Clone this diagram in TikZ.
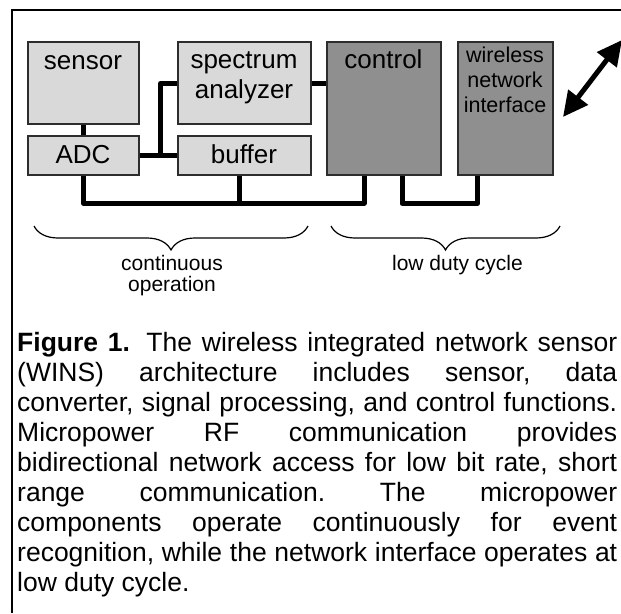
\documentclass[tikz,border=0pt]{standalone}
\usepackage{fontspec}
\setmainfont{Liberation Sans}
\usetikzlibrary{arrows.meta,decorations.pathreplacing,calc}
\definecolor{lightfill}{RGB}{217,217,217}
\definecolor{darkfill}{RGB}{143,143,143}
\definecolor{edgecol}{RGB}{45,45,45}
\begin{document}
\begin{tikzpicture}[x=1pt,y=-1pt,
  box/.style={draw=edgecol, line width=1.3pt, inner sep=0pt, anchor=north west},
  lbox/.style={box, fill=lightfill},
  dbox/.style={box, fill=darkfill},
  big/.style={font=\fontsize{26}{30}\selectfont, inner sep=0pt, anchor=base},
  small/.style={font=\fontsize{21.5}{25}\selectfont, inner sep=0pt, anchor=base},
  lab/.style={font=\fontsize{21}{24}\selectfont, inner sep=0pt, anchor=base},
  wire/.style={line width=5pt, line join=round},
  bracestyle/.style={line width=1.2pt, decorate, decoration={brace, amplitude=24pt, mirror}},
  dblarrow/.style={line width=5pt, {Triangle[length=25pt,width=24pt]}-{Triangle[length=25pt,width=24pt]}}
  ]
\useasboundingbox (0,0) rectangle (621,613);
% frame
\draw[line width=2.3pt] (12,613) -- (12,10) -- (621,10);

% boxes
\node[lbox, minimum width=110pt, minimum height=81pt] (sensor) at (28,42) {};
\node[lbox, minimum width=110pt, minimum height=38pt] (ADC) at (28,136) {};
\node[lbox, minimum width=132pt, minimum height=81pt] (spec) at (178,42) {};
\node[lbox, minimum width=132pt, minimum height=38pt] (buffer) at (178,136) {};
\node[dbox, minimum width=113pt, minimum height=132pt] (control) at (327,42) {};
\node[dbox, minimum width=94pt, minimum height=132pt] (wireless) at (458,42) {};

% connection points
\coordinate (j) at ($(ADC.east)!0.55!(buffer.west)$);
\coordinate (b1) at ($(buffer.south)+(-5,0)$);
\coordinate (c1) at ($(control.south west)+(37,0)$);
\coordinate (c2) at ($(control.south west)+(75,0)$);
\coordinate (w1) at ($(wireless.south)+(-28,0)$);

% wires
\draw[wire] (sensor.south) -- (ADC.north);
\draw[wire] (ADC.east) -- (buffer.west);
\draw[wire] (j) |- (spec.west);
\draw[wire] (spec.east) -- (spec.east -| control.west);
\draw[wire] (ADC.south) -- ++(0,28) -| (c1);
\draw[wire] (b1) -- ++(0,28);
\draw[wire] (c2) -- ++(0,28) -| (w1);

% redraw box borders on top
\draw[draw=edgecol, line width=1.3pt] (sensor.north west) rectangle (sensor.south east);
\draw[draw=edgecol, line width=1.3pt] (ADC.north west) rectangle (ADC.south east);
\draw[draw=edgecol, line width=1.3pt] (spec.north west) rectangle (spec.south east);
\draw[draw=edgecol, line width=1.3pt] (buffer.north west) rectangle (buffer.south east);
\draw[draw=edgecol, line width=1.3pt] (control.north west) rectangle (control.south east);
\draw[draw=edgecol, line width=1.3pt] (wireless.north west) rectangle (wireless.south east);

% box labels
\node[big] (sensorT) at (83,69) {sensor};
\node[big] (specT1) at (244,68) {spectrum};
\node[big] (specT2) at (244,98) {analyzer};
\node[big] (ctrlT) at (383.5,68) {control};
\node[small] (wT1) at (505,62) {wireless};
\node[small] (wT2) at (505,87) {network};
\node[small] (wT3) at (505,112) {interface};
\node[big] (adcT) at (83,163) {ADC};
\node[big] (bufT) at (244,163) {buffer};

% radio arrow
\coordinate (a1) at (563,117);
\coordinate (a2) at (622,40);
\draw[dblarrow] (a1) -- (a2);

% braces
\coordinate (l1) at (34,226);
\coordinate (l2) at (308,226);
\coordinate (r1) at (331,226);
\coordinate (r2) at (560,226);
\draw[bracestyle] (l1) -- (l2);
\draw[bracestyle] (r1) -- (r2);
\node[lab] (contT1) at (172,270) {continuous};
\node[lab] (contT2) at (172,291) {operation};
\node[lab] (lowT) at (457.5,270) {low duty cycle};

% caption
\node[anchor=base west, inner sep=0pt, font=\fontsize{26.5}{30}\selectfont] (cap) at (17,351.7) {\parbox[t]{600pt}{\hbadness=10000\frenchspacing
\textbf{Figure 1.}\hspace{0.25em} The wireless integrated network sensor\linebreak
(WINS) architecture includes sensor, data\linebreak
converter, signal processing, and control functions.\linebreak
Micropower RF communication provides\linebreak
bidirectional network access for low bit rate, short\linebreak
range communication. The micropower\linebreak
components operate continuously for event\linebreak
recognition, while the network interface operates at\linebreak
low duty cycle.}};
\end{tikzpicture}
\end{document}
